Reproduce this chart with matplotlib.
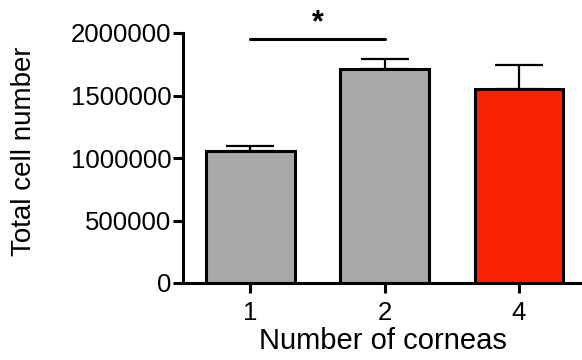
import matplotlib.pyplot as plt

plt.rcParams['font.family'] = ['Liberation Sans', 'DejaVu Sans']

categories = ['1', '2', '4']
cell_counts = [1056000, 1712000, 1552000]
errors = [40000, 80000, 192000]
bar_colors = ['#A8A8A8', '#A8A8A8', '#FA2200']
y_ticks = [0, 500000, 1000000, 1500000, 2000000]
sig_level = 1952000

fig = plt.figure(figsize=(5.82, 3.6), dpi=100)
ax = fig.add_axes([183 / 582, 77 / 360, 399 / 582, 250 / 360])

x = list(range(len(categories)))
ax.errorbar(x, cell_counts, yerr=[[0] * len(errors), errors], fmt='none',
            ecolor='black', elinewidth=1.6, capsize=17, capthick=1.6, zorder=1)
ax.bar(x, cell_counts, width=0.66, color=bar_colors, edgecolor='black',
       linewidth=2.2, zorder=2)

ax.set_xlim(-0.5, 2.47)
ax.set_ylim(0, 2000000)
ax.set_xticks(x)
ax.set_xticklabels(categories)
ax.set_yticks(y_ticks)
ax.set_yticklabels([str(v) for v in y_ticks])

for side in ['top', 'right']:
    ax.spines[side].set_visible(False)
for side in ['left', 'bottom']:
    ax.spines[side].set_linewidth(2.2)
ax.tick_params(axis='both', width=2.2, length=7.2, labelsize=18.5, pad=1)
ax.tick_params(axis='x', pad=6)

ax.set_xlabel('Number of corneas', fontsize=21, labelpad=1)
ax.set_ylabel('Total cell number', fontsize=20)
ax.yaxis.set_label_coords(-0.366, 0.528)

# significance bar between groups 1 and 2
ax.plot([0, 1], [sig_level, sig_level], color='black', linewidth=2.2,
        solid_capstyle='round', clip_on=False)
ax.text(0.5, sig_level + 5000, '*', ha='center', va='bottom', fontsize=22,
        fontweight='bold', clip_on=False)

fig.savefig('out.png', dpi=100)
